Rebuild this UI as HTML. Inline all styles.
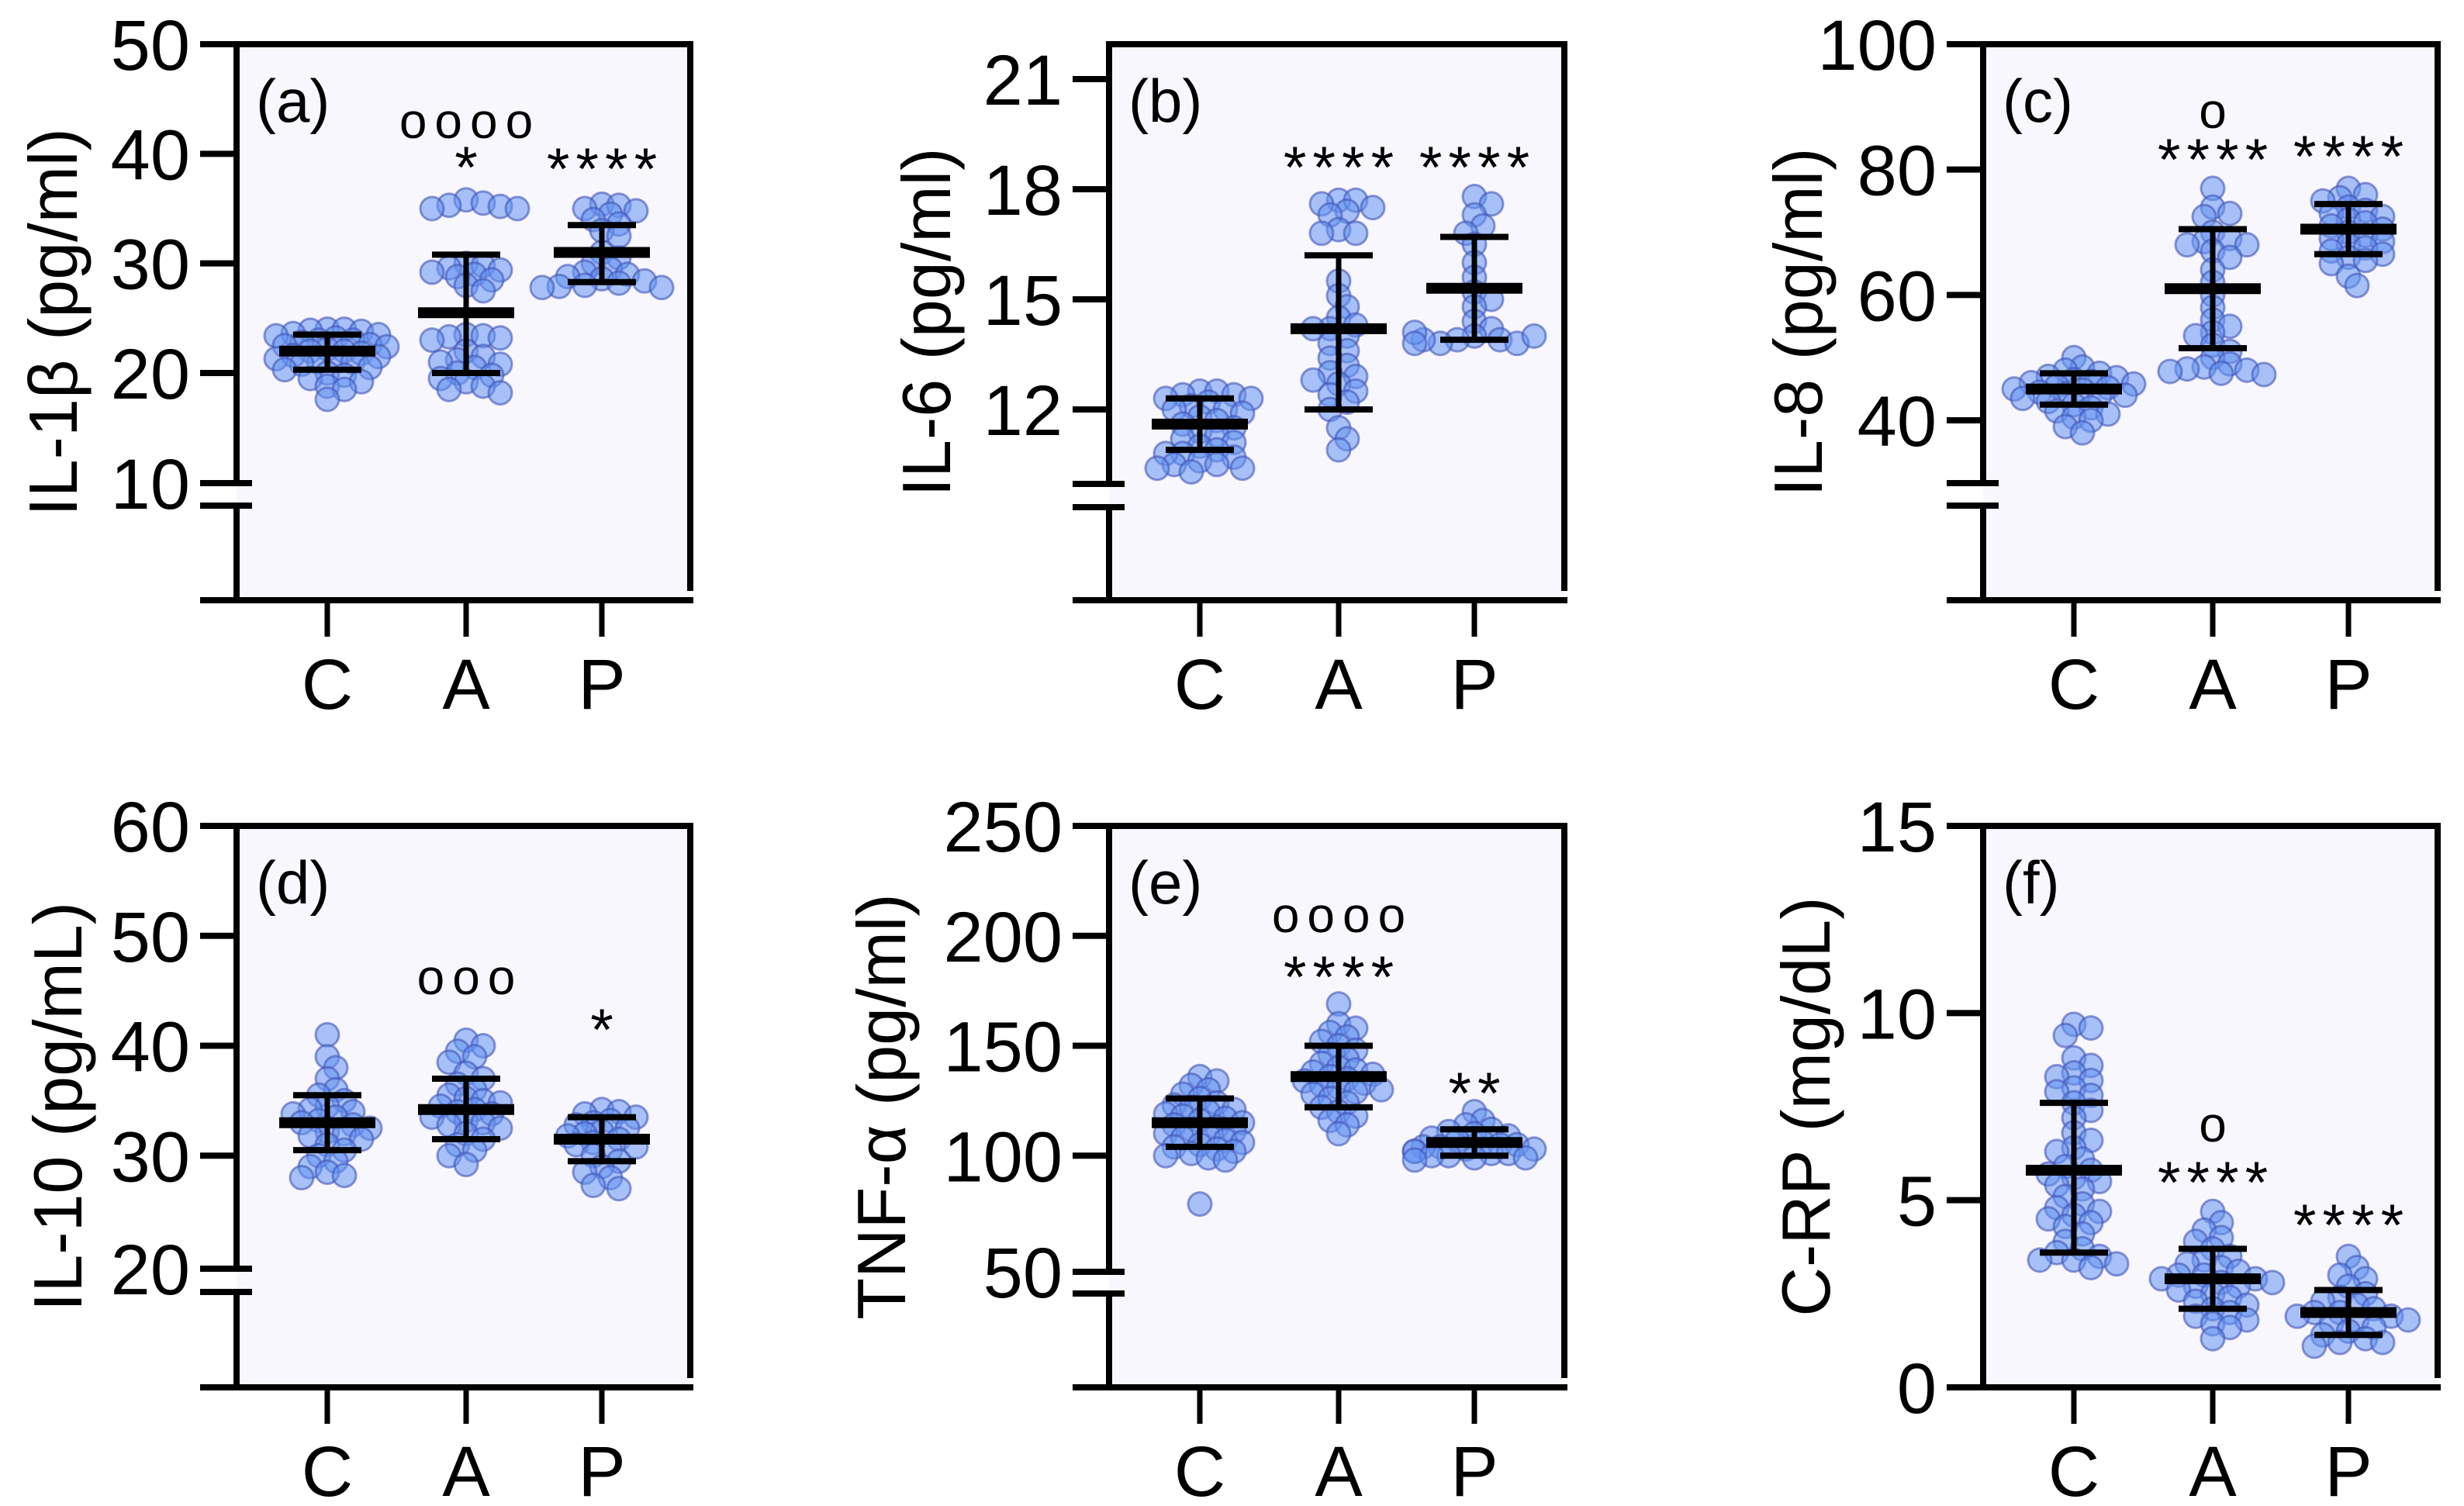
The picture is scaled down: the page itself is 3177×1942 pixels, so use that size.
<!DOCTYPE html>
<html><head><meta charset="utf-8"><style>
html,body{margin:0;padding:0;background:#fff;}
svg{display:block;}
text{font-family:"Liberation Sans",Arial,sans-serif;fill:#000;}
</style></head><body>
<svg id="chart" width="3177" height="1942" viewBox="0 0 3177 1942" xmlns="http://www.w3.org/2000/svg"></svg>
<script>
// ---- data ----
const categories = ["C","A","P"];
const panelLabels = ["(a)","(b)","(c)","(d)","(e)","(f)"];
const axisTitles = ["IL-1β (pg/ml)","IL-6 (pg/ml)","IL-8 (pg/ml)","IL-10 (pg/mL)","TNF-α (pg/ml)","C-RP (mg/dL)"];
const tickLabelsA = [10,20,30,40,50];
const tickLabelsB = [12,15,18,21];
const tickLabelsC = [40,60,80,100];
const tickLabelsD = [20,30,40,50,60];
const tickLabelsE = [50,100,150,200,250];
const tickLabelsF = [0,5,10,15];

const aC=[24,24,23.9,23.8,23.6,23.5,23.4,23.2,23,23,22.8,22.6,22.5,22.4,22.2,22,22,21.8,21.6,21.5,21.3,21.2,21,21,20.8,20.5,20.3,20,19.8,19.5,19.2,18.8,18.5,17.6];
const aA=[35.8,35.5,35.3,35.2,35,35,30,29.8,29.6,29.4,29.2,29,28.8,28.5,28,27.5,23.5,23.4,23.3,23.2,23,22,21.5,21.2,21,20.8,20.5,20,19.8,19.5,19.2,18.8,18.5,18.2];
const aP=[35.4,35.3,35,34.8,34.5,34,33.6,33,32.5,31,30.5,30,29.5,29.2,29,28.8,28.6,28.4,28.2,28,27.9,27.8,27.8];
const bC=[12.5,12.5,12.4,12.4,12.3,12.3,12.2,12.1,12,12,11.9,11.8,11.7,11.6,11.5,11.4,11.3,11.2,11.1,11,10.9,10.8,10.8,10.7,10.6,10.5,10.5,10.4,10.4,10.3];
const bA=[17.7,17.7,17.6,17.5,17.4,17.3,16.9,16.8,16.8,15.5,15.1,14.8,14.5,14.3,14.2,14.2,14.0,13.8,13.6,13.4,13.2,13.0,12.9,12.8,12.7,12.5,12.4,12.2,12.0,11.5,11.2,10.9];
const bP=[17.8,17.6,17.3,17.0,16.8,16.5,16.0,15.6,15.2,15.0,14.8,14.4,14.2,14.0,13.9,13.9,13.8,13.8,13.9,14.0,14.1,13.8];
const cC=[50,48.5,48,47.5,47,46.8,46.5,46.2,46,45.8,45.5,45.2,45,44.8,44.5,44.2,44,43.8,43.5,43,42.5,42,41.5,41,40.5,40,39,38];
const cA=[77,74,73,72.5,70,69,68.5,68,68,67,66,64,62,60,58,56,55,54,53.5,52,51,50,49,48.5,48.2,48,47.8,47.5,47.3];
const cP=[77,76,75.5,75,74,73.5,73,72.5,72,71.5,71,70.5,70,69.5,69,68.5,68,67.5,67,66.5,66,65.5,65,63,61.5];
const dC=[41,39,38,37,36,35.5,35,34.5,34.2,34,33.8,33.5,33.2,33,32.8,32.5,32.2,32,31.8,31.5,31,30.5,30,29.5,29,28.5,28.2,28];
const dA=[40.5,40,39.5,39,38.5,37.5,37,36.5,36,35.5,35.2,35,34.8,34.5,34.2,34,33.8,33.5,33.2,33,32.8,32.5,32,31.5,31,30.5,30,29.2];
const dP=[34.2,34,33.8,33.5,33.2,33,32.8,32.5,32.2,32,31.8,31.5,31.2,31,30.8,30.5,30,29.5,29,28.5,28,27.3,27];
const eC=[136,134,132,130,128,126,124,123,122,121,120,119,118,117,116,115,114,113,112,111,110,109,108,107,106,105,104,103,102,101,100,99,98,78];
const eA=[169,160,158,156,154,152,150,148,146,144,142,140,139,138,137,136,135,134,133,132,131,130,129,128,126,124,122,120,118,116,114,110];
const eP=[120,116,114,112,111,110,109,108,107,106,105,105,104,104,103,103,102,102,101,101,100,100,99,99,98];
const fC=[9.7,9.6,9.4,8.8,8.6,8.4,8.3,8.2,8.0,7.9,7.8,7.6,7.4,7.2,6.8,6.6,6.4,6.3,6.1,5.9,5.8,5.7,5.6,5.5,5.4,5.3,5.1,4.9,4.8,4.7,4.6,4.5,4.4,4.3,4.1,3.9,3.7,3.6,3.5,3.4,3.4,3.3,3.2];
const fA=[4.7,4.4,4.2,4.0,3.9,3.7,3.5,3.4,3.3,3.2,3.1,3.0,3.0,2.9,2.9,2.8,2.8,2.7,2.7,2.6,2.5,2.4,2.3,2.2,2.1,2.0,1.9,1.8,1.7,1.6,1.3];
const fP=[3.5,3.2,3.0,2.9,2.7,2.5,2.4,2.3,2.2,2.1,2.0,2.0,1.9,1.9,1.8,1.8,1.7,1.6,1.5,1.4,1.3,1.2,1.2,1.1];

const meansA=[22,25.5,31], sdLowA=[20.3,20,28.3], sdHighA=[23.5,30.8,33.5];
const meansB=[11.6,14.2,15.3], sdLowB=[10.9,12.0,13.9], sdHighB=[12.3,16.2,16.7];
const meansC=[45,61,70.5], sdLowC=[42.5,51.5,66.5], sdHighC=[47.5,70.5,74.5];
const meansD=[33,34.2,31.5], sdLowD=[30.5,31.5,29.5], sdHighD=[35.5,37,33.5];
const meansE=[115,136,106], sdLowE=[104,122,100], sdHighE=[126,150,112];
const meansF=[5.8,2.9,2.0], sdLowF=[3.6,2.1,1.4], sdHighF=[7.6,3.7,2.6];

const sigA=["","*","****"], circA=["","oooo",""];
const sigB=["","****","****"], circB=["","",""];
const sigC=["","****","****"], circC=["","o",""];
const sigD=["","","*"], circD=["","ooo",""];
const sigE=["","****","**"], circE=["","oooo",""];
const sigF=["","****","****"], circF=["","o",""];

// ---- layout ----
const NS="http://www.w3.org/2000/svg";
const svg=document.getElementById('chart');
function mk(tag,attrs,parent){const e=document.createElementNS(NS,tag);for(const k in attrs)e.setAttribute(k,attrs[k]);(parent||svg).appendChild(e);return e;}

const panels=[
 {L:305,R:890,T:57,B:774,v1:50,p1:57,v2:20,p2:481,ticks:tickLabelsA,brk:[623,652],groups:[aC,aA,aP],m:meansA,lo:sdLowA,hi:sdHighA,sig:sigA,circ:circA,title:{x:68},sigY:[0,206,208],circY:[0,158,0]},
 {L:1430,R:2017,T:57,B:774,v1:21,p1:102,v2:12,p2:528,ticks:tickLabelsB,brk:[624,654],groups:[bC,bA,bP],m:meansB,lo:sdLowB,hi:sdHighB,sig:sigB,circ:circB,title:{x:1194},sigY:[0,206,206],circY:[0,0,0]},
 {L:2557,R:3143,T:57,B:774,v1:100,p1:57,v2:40,p2:542,ticks:tickLabelsC,brk:[623,652],groups:[cC,cA,cP],m:meansC,lo:sdLowC,hi:sdHighC,sig:sigC,circ:circC,title:{x:2318},sigY:[0,196,192],circY:[0,145,0]},
 {L:305,R:890,T:1065,B:1789,v1:60,p1:1065,v2:20,p2:1632,ticks:tickLabelsD,brk:[1636,1666],groups:[dC,dA,dP],m:meansD,lo:sdLowD,hi:sdHighD,sig:sigD,circ:circD,title:{x:74},sigY:[0,0,1318],circY:[0,1262,0]},
 {L:1430,R:2017,T:1065,B:1789,v1:250,p1:1065,v2:50,p2:1632,ticks:tickLabelsE,brk:[1640,1668],groups:[eC,eA,eP],m:meansE,lo:sdLowE,hi:sdHighE,sig:sigE,circ:circE,title:{x:1136},sigY:[0,1250,1400],circY:[0,1182,0]},
 {L:2557,R:3143,T:1065,B:1789,v1:15,p1:1065,v2:0,p2:1789,ticks:tickLabelsF,brk:null,groups:[fC,fA,fP],m:meansF,lo:sdLowF,hi:sdHighF,sig:sigF,circ:circF,title:{x:2328},sigY:[0,1515,1570],circY:[0,1452,0]}
];
const catOff=[117,296,471];
const R=15;

panels.forEach((p,pi)=>{
  const g=mk('g',{});
  
  
  const y=v=>p.p1+(v-p.v1)*(p.p2-p.p1)/(p.v2-p.v1);
  const x=i=>p.L+catOff[i];
  const bg=mk('rect',{x:p.L,y:p.T,width:p.R-p.L,height:p.B-p.T,fill:'#f9f7fe'},g);
  
  
  const fr=mk('path',{d:`M${p.L} ${p.T}H${p.R}V${p.B-12}`,fill:'none',stroke:'#000','stroke-width':8},g);
  
  
  const ya=mk('g',{},g);
  
  
  if(p.brk){
    mk('line',{x1:p.L,y1:p.T-4,x2:p.L,y2:p.brk[0],stroke:'#000','stroke-width':8},ya);
    mk('line',{x1:p.L,y1:p.brk[1],x2:p.L,y2:p.B+4,stroke:'#000','stroke-width':8},ya);
    mk('line',{x1:p.L-47,y1:p.brk[0],x2:p.L+20,y2:p.brk[0],stroke:'#000','stroke-width':8},ya);
    mk('line',{x1:p.L-47,y1:p.brk[1],x2:p.L+20,y2:p.brk[1],stroke:'#000','stroke-width':8},ya);
  } else {
    mk('line',{x1:p.L,y1:p.T-4,x2:p.L,y2:p.B+4,stroke:'#000','stroke-width':8},ya);
  }
  p.ticks.forEach(t=>{
    const ty=y(t);
    const isBreak=p.brk && Math.abs(ty-p.brk[0])<15;
    if(!isBreak) mk('line',{x1:p.L-47,y1:ty,x2:p.L,y2:ty,stroke:'#000','stroke-width':8},ya);
    const lt=mk('text',{x:p.L-60,y:(isBreak?p.brk[0]:ty)+33,'font-size':92,'text-anchor':'end'},ya);
    lt.textContent=t;
    
    
  });
  const xa=mk('g',{},g);
  
  
  mk('line',{x1:p.L-47,y1:p.B,x2:p.R+4,y2:p.B,stroke:'#000','stroke-width':8},xa);
  categories.forEach((c,i)=>{
    mk('line',{x1:x(i),y1:p.B,x2:x(i),y2:p.B+47,stroke:'#000','stroke-width':7},xa);
    const ct=mk('text',{x:x(i),y:p.B+140,'font-size':92,'text-anchor':'middle'},xa);
    ct.textContent=c;
    
    
  });
  const cy=(p.T+p.B)/2;
  const tt=mk('text',{x:p.title.x,y:cy,'font-size':88,'text-anchor':'middle',transform:`rotate(-90 ${p.title.x} ${cy})`,dy:31},g);
  tt.textContent=axisTitles[pi];
  
  
  const pl=mk('text',{x:p.L+25,y:p.T+100,'font-size':78},g);
  pl.textContent=panelLabels[pi];
  
  
  p.groups.forEach((vals,gi)=>{
    const gg=mk('g',{},g);
    
    
    const placed=[];
    vals.forEach(v=>{
      const py=y(v);
      let off=0;
      const cand=[0];
      for(let k=1;k<8;k++){cand.push(k*11,-k*11);}
      for(const c of cand){
        off=c;
        if(placed.every(q=>Math.hypot(q[0]-c,q[1]-py)>=R*1.0))break;
      }
      placed.push([off,py]);
      const dot=mk('circle',{cx:x(gi)+off,cy:py,r:R,fill:'rgba(100,148,240,0.55)',stroke:'rgba(65,85,185,0.6)','stroke-width':3},gg);
      
      
    });
    const ms=mk('g',{},g);
    
    
    const cx=x(gi);
    mk('line',{x1:cx,y1:y(p.lo[gi]),x2:cx,y2:y(p.hi[gi]),stroke:'#000','stroke-width':7},ms);
    mk('line',{x1:cx-44,y1:y(p.lo[gi]),x2:cx+44,y2:y(p.lo[gi]),stroke:'#000','stroke-width':8},ms);
    mk('line',{x1:cx-44,y1:y(p.hi[gi]),x2:cx+44,y2:y(p.hi[gi]),stroke:'#000','stroke-width':8},ms);
    mk('line',{x1:cx-62,y1:y(p.m[gi]),x2:cx+62,y2:y(p.m[gi]),stroke:'#000','stroke-width':14},ms);
    if(p.sig[gi]){
      const st=mk('text',{x:cx+4,y:p.sigY[gi]+36,'font-size':76,'text-anchor':'middle','letter-spacing':8},g);
      st.textContent=p.sig[gi];
      
      
    }
    if(p.circ[gi]){
      const ot=mk('text',{x:cx+5,y:p.circY[gi]+20,'font-size':64,'text-anchor':'middle','letter-spacing':10},g);
      ot.textContent=p.circ[gi];
      
      
    }
  });
});
</script>
</body></html>
